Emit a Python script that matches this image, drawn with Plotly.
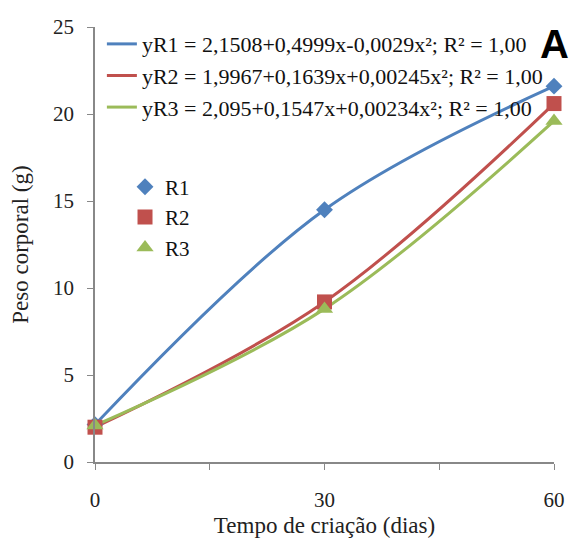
import plotly.graph_objects as go

dias = [0, 30, 60]
r1 = [2.15, 14.5, 21.6]
r2 = [2.0, 9.2, 20.6]
r3 = [2.1, 8.8, 19.6]
series_names = ["R1", "R2", "R3"]
eq_names = [
    "yR1 = 2,1508+0,4999x-0,0029x²; R² = 1,00",
    "yR2 = 1,9967+0,1639x+0,00245x²; R² = 1,00",
    "yR3 = 2,095+0,1547x+0,00234x²; R² = 1,00",
]
colors = ["#4F81BD", "#C0504D", "#9BBB59"]
symbols = ["diamond", "square", "triangle-up"]
sizes = [13, 15, 15]
values = [r1, r2, r3]

FONT = "Liberation Serif"
fig = go.Figure()

for i in range(3):
    fig.add_trace(go.Scatter(
        x=dias, y=values[i], mode="lines", name=eq_names[i],
        line=dict(color=colors[i], width=3, shape="spline", smoothing=1.0),
        legend="legend", cliponaxis=False,
    ))
for i in range(3):
    fig.add_trace(go.Scatter(
        x=dias, y=values[i], mode="markers", name=series_names[i],
        marker=dict(color=colors[i], symbol=symbols[i], size=sizes[i]),
        legend="legend2", cliponaxis=False,
    ))

# page body has an 8px default margin, so the figure is sized to fit
fig.update_layout(
    width=569, height=538,
    margin=dict(l=87, r=23, t=19, b=84),
    paper_bgcolor="white", plot_bgcolor="white",
    font=dict(family=FONT, size=21, color="#222"),
    showlegend=True,
    legend=dict(x=0.015, y=1.009, xanchor="left", yanchor="top",
                font=dict(family=FONT, size=22, color="#111"),
                bgcolor="rgba(0,0,0,0)", tracegroupgap=0, itemwidth=30),
    legend2=dict(x=0.0654, y=0.679, xanchor="left", yanchor="top",
                 font=dict(family=FONT, size=21, color="#111"),
                 bgcolor="rgba(0,0,0,0)"),
    xaxis=dict(range=[0, 60], tickvals=[0, 15, 30, 45, 60],
               ticktext=["0", "", "30", "", "60"],
               ticks="outside", ticklen=6, tickcolor="#888",
               showline=True, linecolor="#888", linewidth=1.5,
               showgrid=False, zeroline=False, automargin=False,
               ticklabelstandoff=12,
               tickfont=dict(family=FONT, size=21, color="#222"),
               title=dict(text="Tempo de criação (dias)", standoff=6,
                          font=dict(family=FONT, size=23, color="#222"))),
    yaxis=dict(range=[0, 25], tickvals=[0, 5, 10, 15, 20, 25],
               ticks="outside", ticklen=6, tickcolor="#888",
               showline=True, linecolor="#888", linewidth=1.5,
               showgrid=False, zeroline=False, automargin=False,
               ticklabelstandoff=9,
               tickfont=dict(family=FONT, size=21, color="#222"),
               title=dict(text="Peso corporal (g)", standoff=20,
                          font=dict(family=FONT, size=23, color="#222"))),
)
fig.add_annotation(text="<b>A</b>", x=1.002, y=0.961,
                   xref="paper", yref="paper", xanchor="center", yanchor="middle",
                   showarrow=False,
                   font=dict(family="Liberation Sans", size=40, color="black"))

fig.write_html("out.html")
